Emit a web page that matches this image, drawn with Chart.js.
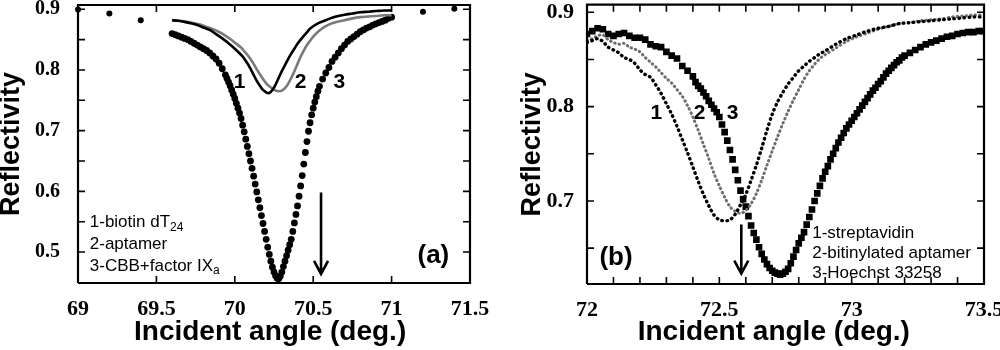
<!DOCTYPE html>
<html><head><meta charset="utf-8">
<script src="https://cdn.jsdelivr.net/npm/chart.js@4.4.0/dist/chart.umd.min.js"></script>
<style>
html,body{margin:0;padding:0;background:#fff;}
#wrap{position:relative;width:1000px;height:350px;overflow:hidden;}
canvas{position:absolute;top:0;}
#ca{left:0;} #cb{left:500px;}
</style></head><body>
<div id="wrap"><canvas id="ca" width="500" height="350" style="width:500px;height:350px"></canvas><canvas id="cb" width="500" height="350" style="width:500px;height:350px"></canvas></div>
<script>
// ---------- Panel (a) data ----------
const aX1 = [69.60,69.64,69.68,69.72,69.76,69.80,69.84,69.88,69.92,69.96,70.00,70.04,70.06,70.08,70.10,70.12,70.14,70.16,70.18,70.20,70.22,70.24,70.26,70.28,70.30,70.32,70.34,70.36,70.38,70.40,70.42,70.44,70.46,70.48,70.50,70.54,70.58,70.62,70.66,70.70,70.75,70.80,70.85,70.90,70.95,71.00];
const aY1 = [0.882,0.881,0.879,0.877,0.874,0.870,0.866,0.859,0.852,0.844,0.835,0.825,0.819,0.811,0.802,0.792,0.782,0.774,0.767,0.763,0.762,0.767,0.776,0.787,0.798,0.808,0.818,0.827,0.835,0.843,0.850,0.856,0.862,0.868,0.872,0.878,0.882,0.886,0.889,0.891,0.893,0.895,0.896,0.897,0.898,0.898];
const aX2 = [69.60,69.64,69.68,69.72,69.76,69.80,69.84,69.88,69.92,69.96,70.00,70.04,70.06,70.08,70.10,70.12,70.14,70.16,70.18,70.20,70.22,70.24,70.26,70.28,70.30,70.32,70.34,70.36,70.38,70.40,70.42,70.44,70.46,70.48,70.50,70.54,70.58,70.62,70.66,70.70,70.75,70.80,70.85,70.90,70.95,71.00];
const aY2 = [0.881,0.881,0.880,0.878,0.876,0.873,0.869,0.865,0.860,0.853,0.845,0.837,0.831,0.825,0.818,0.810,0.801,0.793,0.785,0.778,0.773,0.769,0.766,0.765,0.766,0.770,0.777,0.787,0.798,0.810,0.822,0.832,0.841,0.848,0.855,0.865,0.872,0.877,0.880,0.882,0.885,0.887,0.888,0.889,0.890,0.890];
const aX3 = [69.60,69.62,69.64,69.66,69.68,69.70,69.72,69.74,69.76,69.78,69.80,69.82,69.84,69.86,69.88,69.90,69.92,69.94,69.95,69.96,69.97,69.98,69.99,70.00,70.01,70.02,70.03,70.04,70.05,70.06,70.07,70.08,70.09,70.10,70.11,70.12,70.13,70.14,70.15,70.16,70.17,70.18,70.19,70.20,70.21,70.22,70.23,70.24,70.25,70.26,70.27,70.28,70.29,70.30,70.31,70.32,70.33,70.34,70.35,70.36,70.37,70.38,70.39,70.40,70.41,70.42,70.43,70.44,70.45,70.46,70.47,70.48,70.49,70.50,70.51,70.52,70.53,70.54,70.56,70.58,70.60,70.62,70.64,70.66,70.68,70.70,70.72,70.74,70.76,70.78,70.80,70.82,70.84,70.86,70.88,70.90,70.92,70.94,70.96,70.98,71.00];
const aY3 = [0.860,0.858,0.856,0.854,0.852,0.850,0.847,0.844,0.841,0.838,0.835,0.832,0.828,0.823,0.818,0.811,0.802,0.792,0.786,0.780,0.774,0.767,0.760,0.753,0.745,0.737,0.729,0.720,0.709,0.698,0.686,0.674,0.662,0.650,0.638,0.625,0.612,0.599,0.586,0.573,0.560,0.547,0.534,0.521,0.508,0.496,0.485,0.475,0.467,0.461,0.457,0.456,0.460,0.467,0.476,0.485,0.494,0.503,0.512,0.521,0.534,0.548,0.562,0.576,0.592,0.609,0.626,0.645,0.664,0.682,0.699,0.713,0.726,0.737,0.747,0.756,0.765,0.773,0.785,0.795,0.804,0.814,0.821,0.828,0.835,0.841,0.847,0.851,0.855,0.859,0.863,0.866,0.869,0.871,0.874,0.876,0.878,0.880,0.882,0.885,0.887];
const aXRef = [69.0,69.2,69.4,71.2,71.4];
const aYRef = [0.8995,0.893,0.882,0.896,0.901];
const aXTicks = [69,69.5,70,70.5,71,71.5];
const aXTickLabels = ['69','69.5','70','70.5','71','71.5'];
const aXMinor = [69.5,70,70.5,71];
const aYTicks = [0.5,0.6,0.7,0.8,0.9];
const aYTickLabels = ['0.5','0.6','0.7','0.8','0.9'];
const aYMinor = [0.5,0.55,0.6,0.65,0.7,0.75,0.8,0.85,0.9];

// ---------- Panel (b) data ----------
const bX12 = [72.00,72.02,72.04,72.06,72.08,72.10,72.12,72.14,72.16,72.18,72.20,72.22,72.24,72.26,72.28,72.30,72.32,72.34,72.36,72.38,72.40,72.42,72.44,72.46,72.48,72.50,72.52,72.54,72.56,72.58,72.60,72.62,72.64,72.66,72.68,72.70,72.72,72.74,72.76,72.78,72.80,72.82,72.84,72.86,72.88,72.90,72.94,72.98,73.02,73.06,73.10,73.14,73.18,73.22,73.26,73.30,73.34,73.38,73.42,73.46,73.50];
const bY1 = [0.868,0.870,0.872,0.869,0.863,0.860,0.857,0.852,0.850,0.846,0.839,0.834,0.831,0.823,0.814,0.803,0.792,0.779,0.765,0.751,0.736,0.721,0.707,0.695,0.685,0.680,0.679,0.680,0.686,0.696,0.707,0.722,0.738,0.756,0.775,0.792,0.805,0.815,0.824,0.831,0.838,0.843,0.848,0.852,0.856,0.859,0.866,0.872,0.876,0.880,0.883,0.885,0.888,0.889,0.890,0.891,0.892,0.893,0.894,0.895,0.895];
const bY2 = [0.870,0.872,0.875,0.876,0.871,0.868,0.866,0.867,0.863,0.861,0.858,0.852,0.847,0.842,0.836,0.830,0.825,0.818,0.811,0.801,0.789,0.775,0.760,0.745,0.729,0.716,0.704,0.694,0.689,0.687,0.690,0.697,0.708,0.722,0.738,0.753,0.768,0.782,0.795,0.807,0.818,0.829,0.838,0.845,0.851,0.855,0.862,0.869,0.874,0.878,0.882,0.885,0.888,0.889,0.891,0.892,0.893,0.895,0.896,0.897,0.897];
const bX3 = [72.00,72.02,72.04,72.06,72.08,72.10,72.12,72.14,72.16,72.18,72.20,72.22,72.24,72.26,72.28,72.30,72.32,72.34,72.36,72.38,72.40,72.41,72.42,72.43,72.44,72.45,72.46,72.47,72.48,72.49,72.50,72.51,72.52,72.53,72.54,72.55,72.56,72.57,72.58,72.59,72.60,72.61,72.62,72.63,72.64,72.65,72.66,72.67,72.68,72.69,72.70,72.71,72.72,72.73,72.74,72.75,72.76,72.77,72.78,72.79,72.80,72.81,72.82,72.83,72.84,72.85,72.86,72.87,72.88,72.89,72.90,72.91,72.92,72.93,72.94,72.95,72.96,72.97,72.98,72.99,73.00,73.01,73.02,73.03,73.04,73.05,73.06,73.07,73.08,73.09,73.10,73.11,73.12,73.13,73.14,73.15,73.16,73.17,73.18,73.19,73.20,73.22,73.24,73.26,73.28,73.30,73.32,73.34,73.36,73.38,73.40,73.42,73.44,73.46,73.48,73.50];
const bY3 = [0.877,0.880,0.883,0.882,0.877,0.875,0.877,0.878,0.875,0.873,0.873,0.871,0.866,0.864,0.863,0.858,0.854,0.851,0.843,0.838,0.832,0.826,0.822,0.819,0.815,0.811,0.806,0.802,0.798,0.794,0.789,0.781,0.773,0.764,0.754,0.744,0.733,0.722,0.711,0.702,0.694,0.684,0.674,0.666,0.659,0.651,0.644,0.638,0.633,0.629,0.626,0.624,0.623,0.622,0.623,0.625,0.628,0.634,0.641,0.648,0.655,0.661,0.667,0.675,0.683,0.691,0.700,0.708,0.716,0.724,0.731,0.737,0.744,0.750,0.756,0.762,0.767,0.772,0.777,0.781,0.785,0.789,0.793,0.797,0.801,0.805,0.809,0.813,0.817,0.820,0.824,0.827,0.831,0.835,0.838,0.841,0.844,0.847,0.849,0.852,0.854,0.857,0.860,0.863,0.866,0.868,0.870,0.872,0.874,0.875,0.877,0.878,0.879,0.879,0.880,0.880];
const bXTicks = [72,72.5,73,73.5];
const bXTickLabels = ['72','72.5','73','73.5'];
const bXMinor = [72.1,72.2,72.3,72.4,72.5,72.6,72.7,72.8,72.9,73,73.1,73.2,73.3,73.4];
const bYTicks = [0.7,0.8,0.9];
const bYTickLabels = ['0.7','0.8','0.9'];
const bYMinor = [0.65,0.7,0.75,0.8,0.85,0.9];

const pts = (xs, ys) => xs.map((x, i) => ({x, y: ys[i]}));
const labelFor = (vals, labels, v) => { const k = vals.findIndex(t => Math.abs(t - v) < 1e-9); return k >= 0 ? labels[k] : ''; };

Chart.defaults.font.family = 'Liberation Sans';
Chart.defaults.color = '#000';

// frame and inward tick marks, built from the axis limits and tick arrays
function frameData(c) {
  return [{x: c.xmin, y: c.ymin}, {x: c.xmin, y: c.ymax}, {x: c.xmax, y: c.ymax}, {x: c.xmax, y: c.ymin}, {x: c.xmin, y: c.ymin}];
}
function tickData(c) {
  const d = [];
  c.xMinor.forEach(t => {
    d.push({x: t, y: c.ymin}, {x: t, y: c.ymin + c.tly}, {x: t, y: null});
    d.push({x: t, y: c.ymax}, {x: t, y: c.ymax - c.tly}, {x: t, y: null});
  });
  c.yMinor.forEach(v => {
    d.push({x: c.xmin, y: v}, {x: c.xmin + c.tlx, y: v}, {x: null, y: v});
    d.push({x: c.xmax, y: v}, {x: c.xmax - c.tlx, y: v}, {x: null, y: v});
  });
  return d;
}

function annotPlugin(o) {
  return {
    id: 'annot',
    afterDraw(chart) {
      const ctx = chart.ctx, x = chart.scales.x, y = chart.scales.y;
      ctx.save();
      ctx.fillStyle = '#000';
      ctx.strokeStyle = '#000';
      const ar = o.arrow;
      const ax = x.getPixelForValue(ar.x), y0 = y.getPixelForValue(ar.y0), y1 = y.getPixelForValue(ar.y1);
      ctx.lineWidth = 2.6;
      ctx.beginPath();
      ctx.moveTo(ax, y0); ctx.lineTo(ax, y1);
      ctx.moveTo(ax - 7, y1 - 13); ctx.lineTo(ax, y1); ctx.lineTo(ax + 7, y1 - 13);
      ctx.stroke();
      ctx.textBaseline = 'middle';
      ctx.textAlign = 'left';
      const fonts = { num: 'bold 21px "Liberation Sans"', leg: '17px "Liberation Sans"', par: 'bold 26px "Liberation Sans"' };
      o.texts.forEach(t => {
        const font = fonts[t.kind];
        const px = x.getPixelForValue(t.x), py = y.getPixelForValue(t.y);
        let cx = px;
        if (t.center) {
          ctx.font = font;
          cx = px - ctx.measureText(t.parts.map(q => q.t).join('')).width / 2;
        }
        t.parts.forEach(q => {
          ctx.font = q.sub ? '12px "Liberation Sans"' : font;
          ctx.fillText(q.t, cx, q.sub ? py + 5 : py);
          cx += ctx.measureText(q.t).width;
        });
      });
      ctx.restore();
    }
  };
}

function zeroPad(s) { s.paddingTop = 0; s.paddingBottom = 0; s.paddingLeft = 0; s.paddingRight = 0; }

function makeChart(id, cfg) {
  const datasets = [
    { data: frameData(cfg), showLine: true, borderColor: '#000', borderWidth: 2.2, borderJoinStyle: 'miter', pointRadius: 0, tension: 0, clip: false },
    { data: tickData(cfg), showLine: true, spanGaps: false, borderColor: '#000', borderWidth: 1.6, pointRadius: 0, tension: 0, clip: false }
  ].concat(cfg.datasets);
  return new Chart(document.getElementById(id), {
    type: 'scatter',
    data: { datasets },
    options: {
      responsive: false, animation: false, events: [],
      layout: { padding: cfg.padding },
      plugins: { legend: { display: false }, tooltip: { enabled: false } },
      scales: {
        x: { type: 'linear', position: 'bottom', min: cfg.xmin, max: cfg.xmax,
          afterFit: s => { s.height = cfg.xh; zeroPad(s); },
          afterBuildTicks: s => { s.ticks = cfg.xTicks.map(v => ({value: v})); },
          grid: { display: false }, border: { display: false },
          ticks: { padding: 5, maxRotation: 0, autoSkip: false, font: { family: 'Liberation Serif', weight: 'bold', size: 22 }, color: '#000',
            callback: v => labelFor(cfg.xTicks, cfg.xLabels, v) },
          title: { display: true, text: cfg.xTitle, color: '#000', font: { family: 'Liberation Sans', size: 28, weight: 'bold', lineHeight: 1 }, padding: { top: 0, bottom: 4 } } },
        y: { type: 'linear', position: 'left', min: cfg.ymin, max: cfg.ymax,
          afterFit: s => { s.width = cfg.yw; zeroPad(s); },
          afterBuildTicks: s => { s.ticks = cfg.yTicks.map(v => ({value: v})); },
          grid: { display: false }, border: { display: false },
          ticks: { padding: cfg.ytp, autoSkip: false, font: { family: 'Liberation Serif', weight: 'bold', size: cfg.yfs }, color: '#000',
            callback: v => labelFor(cfg.yTicks, cfg.yLabels, v) },
          title: { display: true, text: 'Reflectivity', color: '#000', font: { family: 'Liberation Sans', size: 27, weight: 'bold', lineHeight: 1 }, padding: { top: cfg.ytitle, bottom: 0 } } }
      }
    },
    plugins: [annotPlugin(cfg)]
  });
}

makeChart('ca', {
  padding: { top: 5, right: 30, left: 0, bottom: 0 },
  xh: 67, yw: 78, ytp: 10, yfs: 20, ytitle: -1.5,
  xTitle: 'Incident angle (deg.) ',
  xmin: 69, xmax: 71.5, ymin: 0.449, ymax: 0.907,
  tlx: 0.0446, tly: 0.0115,
  xTicks: aXTicks, xLabels: aXTickLabels, yTicks: aYTicks, yLabels: aYTickLabels,
  xMinor: aXMinor, yMinor: aYMinor,
  arrow: { x: 70.55, y0: 0.598, y1: 0.464 },
  texts: [
    { kind: 'num', x: 70.03, y: 0.78, center: true, parts: [{t: '1'}] },
    { kind: 'num', x: 70.42, y: 0.78, center: true, parts: [{t: '2'}] },
    { kind: 'num', x: 70.667, y: 0.78, center: true, parts: [{t: '3'}] },
    { kind: 'leg', x: 69.075, y: 0.549, parts: [{t: '1-biotin dT'}, {t: '24', sub: true}] },
    { kind: 'leg', x: 69.075, y: 0.513, parts: [{t: '2-aptamer'}] },
    { kind: 'leg', x: 69.075, y: 0.477, parts: [{t: '3-CBB+factor IX'}, {t: 'a', sub: true}] },
    { kind: 'par', x: 71.165, y: 0.493, parts: [{t: '(a)'}] }
  ],
  datasets: [
    { data: pts(aX1, aY1), showLine: true, borderColor: '#000', borderWidth: 2.6, pointRadius: 0, tension: 0.3 },
    { data: pts(aX2, aY2), showLine: true, borderColor: '#7a7a7a', borderWidth: 2.6, pointRadius: 0, tension: 0.3 },
    { data: pts(aX3, aY3), showLine: false, pointStyle: 'circle', pointRadius: 3.4, backgroundColor: '#000', borderWidth: 0 },
    { data: pts(aXRef, aYRef), showLine: false, pointStyle: 'circle', pointRadius: 3, backgroundColor: '#000', borderWidth: 0, clip: false }
  ]
});

makeChart('cb', {
  padding: { top: 3, right: 16, left: 0, bottom: 0 },
  xh: 66, yw: 87, ytp: 5, yfs: 22, ytitle: 19.5,
  xTitle: 'Incident angle (deg.)   ',
  xmin: 72, xmax: 73.5, ymin: 0.612, ymax: 0.908,
  tlx: 0.0265, tly: 0.0074,
  xTicks: bXTicks, xLabels: bXTickLabels, yTicks: bYTicks, yLabels: bYTickLabels,
  xMinor: bXMinor, yMinor: bYMinor,
  arrow: { x: 72.583, y0: 0.675, y1: 0.623 },
  texts: [
    { kind: 'num', x: 72.262, y: 0.7926, center: true, parts: [{t: '1'}] },
    { kind: 'num', x: 72.425, y: 0.7926, center: true, parts: [{t: '2'}] },
    { kind: 'num', x: 72.55, y: 0.7926, center: true, parts: [{t: '3'}] },
    { kind: 'leg', x: 72.851, y: 0.666, parts: [{t: '1-streptavidin'}] },
    { kind: 'leg', x: 72.851, y: 0.644, parts: [{t: '2-bitinylated aptamer'}] },
    { kind: 'leg', x: 72.851, y: 0.623, parts: [{t: '3-Hoechst 33258'}] },
    { kind: 'par', x: 72.047, y: 0.640, parts: [{t: '(b)'}] }
  ],
  datasets: [
    { data: pts(bX12, bY1), showLine: true, borderColor: '#000', borderWidth: 3.4, borderDash: [0.5, 4.6], borderCapStyle: 'round', pointRadius: 0, tension: 0.3 },
    { data: pts(bX12, bY2), showLine: true, borderColor: '#6e6e6e', borderWidth: 3.0, borderDash: [0.5, 4.0], borderCapStyle: 'round', pointRadius: 0, tension: 0.3 },
    { data: pts(bX3, bY3), showLine: false, pointStyle: 'rect', pointRadius: 4.7, backgroundColor: '#000', borderWidth: 0 }
  ]
});
</script>
</body></html>
